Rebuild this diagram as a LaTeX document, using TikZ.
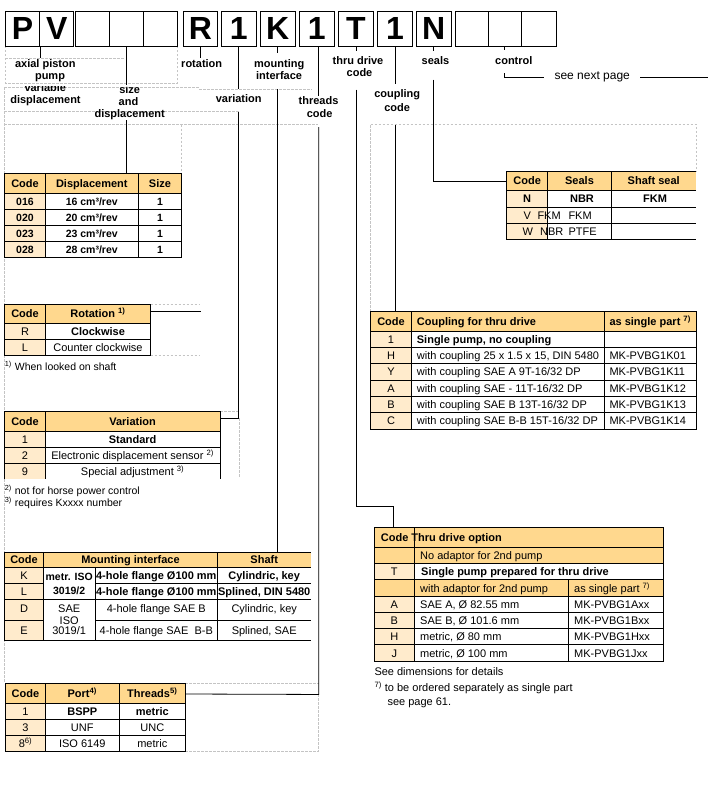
\documentclass[tikz,border=0pt]{standalone}
\usepackage{fontspec}
\setmainfont{Liberation Sans}
\definecolor{hdr}{RGB}{255,216,142}
\definecolor{codec}{RGB}{255,235,204}
\definecolor{dashc}{RGB}{196,196,196}
\newcounter{cn}
\newcommand\ct[4]{\stepcounter{cn}\node[#1] (t\arabic{cn}) at (#2,#3) {#4};}
\newcommand\sx[1]{\textsuperscript{#1}}
\begin{document}
\begin{tikzpicture}[x=1pt,y=-1pt,
  gl/.style={draw=dashc,line width=0.6pt,dash pattern=on 2.5pt off 1.5pt},
  tl/.style={line width=0.8pt},
  conn/.style={line width=0.8pt},
  lbox/.style={draw,line width=0.9pt,inner sep=0pt,minimum height=34.7pt,font=\bfseries\fontsize{32}{32}\selectfont},
  lab/.style={anchor=base,inner sep=0pt,font=\bfseries\fontsize{11}{12}\selectfont},
  hb/.style={anchor=base,inner sep=0pt,font=\bfseries\fontsize{11}{12}\selectfont},
  hbw/.style={hb,anchor=base west},
  rg/.style={anchor=base,inner sep=0pt,font=\fontsize{11}{12}\selectfont},
  rgw/.style={rg,anchor=base west},
  sb/.style={anchor=base,inner sep=0pt,font=\bfseries\fontsize{10.5}{12}\selectfont},
  sr/.style={anchor=base,inner sep=0pt,font=\fontsize{10.5}{12}\selectfont},
  srw/.style={sr,anchor=base west}]
\useasboundingbox (0,0) rectangle (708,797);
\fill[white] (0,0) rectangle (708,797);

% ---------- gray dashed layout frames ----------
\draw[gl] (5.3,46) -- (5.3,83.3) -- (177,83.3) -- (177,46);
\draw[gl] (5.3,58) -- (125,58);
\draw[gl] (4,87.3) -- (199,87.3);
\draw[gl] (199,89.3) -- (311.7,89.3);
\draw[gl] (4,111.3) -- (240,111.3);
\draw[gl] (4,124.7) -- (318,124.7);
\draw[gl] (4.3,87.3) -- (4.3,683.3);
\draw[gl] (181.7,124.7) -- (181.7,173.3);
\draw[gl] (150.7,304.3) -- (200,304.3);
\draw[gl] (150.7,355.3) -- (200,355.3);
\draw[gl] (220,411.7) -- (239.3,411.7);
\draw[gl] (239.3,418.3) -- (239.3,478);
\draw[gl] (185.3,683.3) -- (318.7,683.3);
\draw[gl] (318.7,694) -- (318.7,751) -- (185.3,751);
\draw[gl] (370,311.7) -- (370,124.3) -- (696,124.3) -- (696,171.7);

% ---------- code boxes ----------
\node[lbox,minimum width=34.4pt] (b1) at (22.5,28.65) {P};
\node[lbox,minimum width=34pt] (b2) at (56.7,28.65) {V};
\node[lbox,minimum width=34pt] (b3) at (92.7,28.65) {};
\node[lbox,minimum width=33.3pt] (b4) at (126.35,28.65) {};
\node[lbox,minimum width=34pt] (b5) at (160,28.65) {};
\node[lbox,minimum width=33.6pt] (bR) at (200.5,28.65) {R};
\node[lbox,minimum width=35pt] (b7) at (238.8,28.65) {1};
\node[lbox,minimum width=35pt] (bK) at (277.8,28.65) {K};
\node[lbox,minimum width=35pt] (b9) at (316.8,28.65) {1};
\node[lbox,minimum width=35.4pt] (bT) at (356,28.65) {T};
\node[lbox,minimum width=35.4pt] (b11) at (395,28.65) {1};
\node[lbox,minimum width=34.7pt] (bN) at (433.65,28.65) {N};
\node[lbox,minimum width=33.3pt] (b13) at (471.65,28.65) {};
\node[lbox,minimum width=33pt] (b14) at (504.8,28.65) {};
\node[lbox,minimum width=35.4pt] (b15) at (539,28.65) {};

% ---------- labels ----------
\node[lab] (l1a) at (45.3,67.7) {axial piston};
\node[lab] (l1b) at (50,80) {pump};
\begin{scope}
\clip (0,86.5) rectangle (200,100);
\node[lab] (l2a) at (45.3,91.7) {variable};
\node[lab] (l3a) at (129.7,93.3) {size};
\end{scope}
\node[lab] (l2b) at (45.5,103.3) {displacement};
\node[lab] (l3b) at (128.5,105.3) {and};
\node[lab] (l3c) at (129.7,117.3) {displacement};
\node[lab] (l4) at (201.7,68) {rotation};
\node[lab] (l5) at (238.7,102.3) {variation};
\node[lab] (l6a) at (279.2,68) {mounting};
\node[lab] (l6b) at (279.1,80) {interface};
\node[lab] (l7a) at (318.5,104.7) {threads};
\node[lab] (l7b) at (319.7,117.3) {code};
\node[lab] (l8a) at (358,65) {thru drive};
\node[lab] (l8b) at (359.5,76.7) {code};
\node[lab] (l9a) at (397.2,97.7) {coupling};
\node[lab] (l9b) at (397.2,111) {code};
\node[lab] (l10) at (435.5,64.3) {seals};
\node[lab] (l11) at (513.8,64.3) {control};
\node[anchor=base west,inner sep=0pt,font=\fontsize{12}{13}\selectfont] (l12) at (554.3,79.5) {see next page};

% ---------- anchor coordinates on tables ----------
\coordinate (dispT) at (126.35,173.3);
\coordinate (rotR) at (150.7,311.3);
\coordinate (varR) at (220,418.3);
\coordinate (mntT) at (277.8,552);
\coordinate (portR) at (185.3,694);
\coordinate (thA) at (393.3,506.7);
\coordinate (thruT) at (393.3,527.3);
\coordinate (cplT) at (395,311.7);
\coordinate (sealL) at (506.7,181.7);
\coordinate (ctl) at (544,77.7);
\coordinate (ctlB) at (640,77.7);
\coordinate (ctlE) at (708,77.7);

% ---------- connectors ----------
\draw[conn] (b1.south east) -- ++(0,12);
\draw[conn] (b4.south) -- ++(0,39);
\draw[conn] (b4.south) ++(0,74) -- (dispT);
\draw[conn] (bR.south) -- ++(0,12);
\draw[conn] (rotR) -- (bR.south |- rotR);
\draw[conn] (b7.south) -- ++(0,42.5);
\draw[conn] (b7.south) ++(0,65.7) -- (b7.south |- varR) -- (varR);
\draw[conn] (bK.south) -- ++(0,7);
\draw[conn] (bK.south) ++(0,43) -- (mntT);
\draw[conn] ([xshift=1.9pt]b9.south) -- ++(0,49.7);
\draw[conn] ([xshift=1.9pt]b9.south) ++(0,80.7) -- ++(0,567.3) -- (portR);
\draw[conn] (bT.south) -- ++(0,5);
\draw[conn] (bT.south) ++(0,43.3) -- (bT.south |- thA) -- (thA) -- (thruT);
\draw[conn] (b11.south) -- ++(0,37.3);
\draw[conn] (b11.south) ++(0,79) -- (cplT);
\draw[conn] (bN.south) -- ++(0,4.7);
\draw[conn] (bN.south) ++(0,33.3) -- (bN.south |- sealL) -- (sealL);
\draw[conn] (b14.south) -- ++(0,4);
\draw[conn] (b14.south) ++(0,26.7) -- (b14.south |- ctl) -- (ctl);
\draw[conn] (ctlB) -- (ctlE);

% ---------- displacement table ----------
\fill[hdr] (4.7,173.3) rectangle (181.7,193.3);
\fill[codec] (4.7,193.3) rectangle (45.3,257);
\draw[tl] (4.7,173.3) rectangle (181.7,257);
\foreach \y in {193.3,209.3,225.3,241.3} \draw[tl] (4.7,\y) -- (181.7,\y);
\foreach \x in {45.3,138.3} \draw[tl] (\x,173.3) -- (\x,257);
\ct{hb}{25}{187.3}{Code}\ct{hb}{91.8}{187.3}{Displacement}\ct{hb}{160}{187.3}{Size}
\ct{sb}{25}{205.1}{016}\ct{sb}{91.8}{205.1}{16 cm³/rev}\ct{sb}{160}{205.1}{1}
\ct{sb}{25}{221.1}{020}\ct{sb}{91.8}{221.1}{20 cm³/rev}\ct{sb}{160}{221.1}{1}
\ct{sb}{25}{237.1}{023}\ct{sb}{91.8}{237.1}{23 cm³/rev}\ct{sb}{160}{237.1}{1}
\ct{sb}{25}{253}{028}\ct{sb}{91.8}{253}{28 cm³/rev}\ct{sb}{160}{253}{1}

% ---------- rotation table ----------
\fill[hdr] (4.7,304) rectangle (150.7,323.3);
\fill[codec] (4.7,323.3) rectangle (45.3,355.3);
\draw[tl] (4.7,304) rectangle (150.7,355.3);
\draw[tl] (4.7,323.3) -- (150.7,323.3);
\draw[tl] (4.7,339.3) -- (150.7,339.3);
\draw[tl] (45.3,304) -- (45.3,355.3);
\ct{hb}{25}{317.7}{Code}\ct{hb}{98}{317.7}{Rotation \sx{1)}}
\ct{rg}{25}{335.1}{R}\ct{hb}{98}{335.1}{Clockwise}
\ct{rg}{25}{351.1}{L}\ct{rg}{98}{351.1}{Counter clockwise}
\ct{srw}{4.7}{370}{\sx{1)} When looked on shaft}

% ---------- variation table ----------
\fill[hdr] (4.7,411.7) rectangle (220,431.3);
\fill[codec] (4.7,431.3) rectangle (45.3,479.3);
\draw[tl] (4.7,479.3) -- (4.7,411.7) -- (220,411.7) -- (220,479.3);
\foreach \y in {431.3,447.3,463.3} \draw[tl] (4.7,\y) -- (220,\y);
\draw[tl] (45.3,411.7) -- (45.3,479.3);
\ct{hb}{25}{425.5}{Code}\ct{hb}{132.6}{425.5}{Variation}
\ct{rg}{25}{443.1}{1}\ct{hb}{132.6}{443.1}{Standard}
\ct{rg}{25}{459.1}{2}\ct{rg}{132.6}{459.1}{Electronic displacement sensor \sx{2)}}
\ct{rg}{25}{475.1}{9}\ct{rg}{132.6}{475.1}{Special adjustment \sx{3)}}
\ct{srw}{4.7}{494}{\sx{2)} not for horse power control}
\ct{srw}{4.7}{506.7}{\sx{3)} requires Kxxxx number}

% ---------- mounting interface table ----------
\fill[hdr] (4.7,552) rectangle (310.7,567.3);
\fill[codec] (4.7,567.3) rectangle (43.3,640);
\draw[tl] (310.7,552) -- (4.7,552) -- (4.7,640) -- (310.7,640);
\draw[tl] (4.7,567.3) -- (310.7,567.3);
\draw[tl] (4.7,583.3) -- (43.3,583.3);
\draw[tl] (95,583.3) -- (310.7,583.3);
\draw[tl] (4.7,599.3) -- (310.7,599.3);
\draw[tl] (4.7,620) -- (43.3,620);
\draw[tl] (95,620) -- (310.7,620);
\draw[tl] (43.3,552) -- (43.3,640);
\draw[tl] (217.7,552) -- (217.7,640);
\draw[tl] (95,567.3) -- (95,640);
\ct{hb}{24}{563.7}{Code}\ct{hb}{130.5}{563.7}{Mounting interface}\ct{hb}{264.2}{563.7}{Shaft}
\ct{rg}{24}{579.3}{K}\ct{hb}{156.3}{579.3}{4-hole flange Ø100 mm}\ct{hb}{264.2}{579.3}{Cylindric, key}
\ct{rg}{24}{595.3}{L}\ct{hb}{156.3}{595.3}{4-hole flange Ø100 mm}\ct{hb}{264.2}{595.3}{Splined, DIN 5480}
\ct{sb}{69.2}{580.7}{metr. ISO}\ct{sb}{69.2}{594}{3019/2}
\ct{rg}{24}{612.3}{D}\ct{rg}{69.2}{612.3}{SAE}\ct{rg}{69.2}{624}{ISO}\ct{rg}{69.2}{634.7}{3019/1}
\ct{rg}{156.3}{612.3}{4-hole flange SAE B}\ct{rg}{264.2}{612.3}{Cylindric, key}
\ct{rg}{24}{634}{E}\ct{rg}{156.3}{634}{4-hole flange SAE\ \ B-B}\ct{rg}{264.2}{634}{Splined, SAE}

% ---------- ports table ----------
\fill[hdr] (5.3,683.3) rectangle (185.3,703.3);
\fill[codec] (5.3,703.3) rectangle (45.3,751);
\draw[tl] (5.3,683.3) rectangle (185.3,751);
\foreach \y in {703.3,719.3,735.3} \draw[tl] (5.3,\y) -- (185.3,\y);
\foreach \x in {45.3,119.3} \draw[tl] (\x,683.3) -- (\x,751);
\ct{hb}{25.5}{697.3}{Code}\ct{hb}{82.3}{697.3}{Port\sx{4)}}\ct{hb}{152.3}{697.3}{Threads\sx{5)}}
\ct{rg}{25.5}{715.3}{1}\ct{hb}{82.3}{715.3}{BSPP}\ct{hb}{152.3}{715.3}{metric}
\ct{rg}{25.5}{731.3}{3}\ct{rg}{82.3}{731.3}{UNF}\ct{rg}{152.3}{731.3}{UNC}
\ct{rg}{25.5}{747.2}{8\sx{6)}}\ct{rg}{82.3}{747.2}{ISO 6149}\ct{rg}{152.3}{747.2}{metric}

% ---------- seals table ----------
\fill[hdr] (506.7,171.7) rectangle (696,190);
\fill[codec] (506.7,190) rectangle (547.7,239);
\draw[tl] (696,171.7) -- (506.7,171.7) -- (506.7,239) -- (696,239);
\foreach \y in {190,207.3,223.3} \draw[tl] (506.7,\y) -- (696,\y);
\foreach \x in {547.7,611.3} \draw[tl] (\x,171.7) -- (\x,239);
\ct{hb}{527.2}{184.9}{Code}\ct{hb}{579.5}{184.9}{Seals}\ct{hb}{653.7}{184.9}{Shaft seal}
\ct{hb}{527.2}{202.7}{N}\ct{hb}{582}{202.7}{NBR}\ct{hb}{655}{202.7}{FKM}
\ct{rgw}{523.3}{219.3}{V}\ct{rgw}{537.3}{219.3}{FKM}\ct{rgw}{568.3}{219.3}{FKM}
\ct{rgw}{522.3}{235.2}{W}\ct{rgw}{540}{235.2}{NBR}\ct{rgw}{568.3}{235.2}{PTFE}

% ---------- coupling table ----------
\fill[hdr] (370.3,311.7) rectangle (696,331);
\fill[codec] (370.3,331) rectangle (411.7,429);
\draw[tl] (370.3,311.7) rectangle (696,429);
\foreach \y in {331,347.3,363.7,380,396.3,412.7} \draw[tl] (370.3,\y) -- (696,\y);
\foreach \x in {411.7,604.3} \draw[tl] (\x,311.7) -- (\x,429);
\ct{hb}{391}{325.3}{Code}\ct{hbw}{416.7}{325.3}{Coupling for thru drive}\ct{hbw}{609.3}{325.3}{as single part \sx{7)}}
\ct{rg}{391}{343.2}{1}\ct{hbw}{416.7}{343.2}{Single pump, no coupling}
\ct{rg}{391}{359.5}{H}\ct{rgw}{416.7}{359.5}{with coupling 25 x 1.5 x 15, DIN 5480}\ct{rgw}{609.3}{359.5}{MK-PVBG1K01}
\ct{rg}{391}{375.8}{Y}\ct{rgw}{416.7}{375.8}{with coupling SAE A 9T-16/32 DP}\ct{rgw}{609.3}{375.8}{MK-PVBG1K11}
\ct{rg}{391}{392.2}{A}\ct{rgw}{416.7}{392.2}{with coupling SAE - 11T-16/32 DP}\ct{rgw}{609.3}{392.2}{MK-PVBG1K12}
\ct{rg}{391}{408.5}{B}\ct{rgw}{416.7}{408.5}{with coupling SAE B 13T-16/32 DP}\ct{rgw}{609.3}{408.5}{MK-PVBG1K13}
\ct{rg}{391}{424.8}{C}\ct{rgw}{416.7}{424.8}{with coupling SAE B-B 15T-16/32 DP}\ct{rgw}{609.3}{424.8}{MK-PVBG1K14}

% ---------- thru drive table ----------
\fill[hdr] (374.3,527.3) rectangle (663.3,563.3);
\fill[codec] (374.3,563.3) rectangle (414.3,579.3);
\fill[hdr] (374.3,579.3) rectangle (663.3,596.7);
\fill[codec] (374.3,596.7) rectangle (414.3,661.3);
\draw[tl] (374.3,527.3) rectangle (663.3,661.3);
\foreach \y in {547,563.3,579.3,596.7,612.7,628.7,644.7} \draw[tl] (374.3,\y) -- (663.3,\y);
\draw[tl] (414.3,527.3) -- (414.3,661.3);
\draw[tl] (568.3,579.3) -- (568.3,661.3);
\ct{hbw}{380.7}{541.2}{Code Thru drive option}
\ct{rgw}{420}{559.2}{No adaptor for 2nd pump}
\ct{rg}{394.3}{575.3}{T}\ct{hbw}{421}{575.3}{Single pump prepared for thru drive}
\ct{rgw}{420}{592}{with adaptor for 2nd pump}\ct{rgw}{574}{592}{as single part \sx{7)}}
\ct{rg}{394.3}{608.7}{A}\ct{rgw}{420}{608.7}{SAE A, Ø 82.55 mm}\ct{rgw}{574}{608.7}{MK-PVBG1Axx}
\ct{rg}{394.3}{624.7}{B}\ct{rgw}{420}{624.7}{SAE B, Ø 101.6 mm}\ct{rgw}{574}{624.7}{MK-PVBG1Bxx}
\ct{rg}{394.3}{640.7}{H}\ct{rgw}{420}{640.7}{metric, Ø 80 mm}\ct{rgw}{574}{640.7}{MK-PVBG1Hxx}
\ct{rg}{394.3}{657}{J}\ct{rgw}{420}{657}{metric, Ø 100 mm}\ct{rgw}{574}{657}{MK-PVBG1Jxx}
\ct{rgw}{374.3}{675}{See dimensions for details}
\ct{rgw}{374.3}{691.3}{\sx{7)} to be ordered separately as single part}
\ct{rgw}{387.3}{705}{see page 61.}
\end{tikzpicture}
\end{document}
